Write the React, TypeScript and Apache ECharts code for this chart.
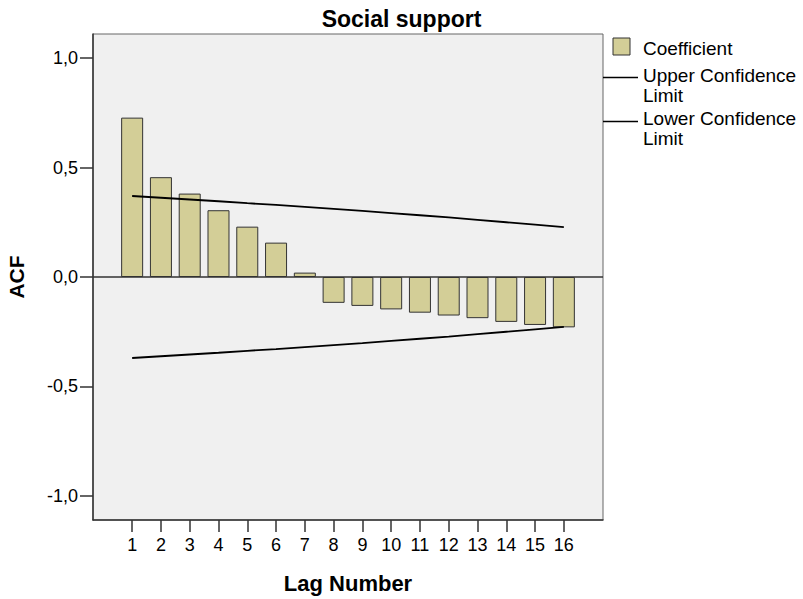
import React, { useEffect, useRef } from "react";
import * as echarts from "echarts";

const lags = [1, 2, 3, 4, 5, 6, 7, 8, 9, 10, 11, 12, 13, 14, 15, 16];
const coefficient = [0.728, 0.456, 0.381, 0.305, 0.23, 0.157, 0.02, -0.118, -0.132, -0.148, -0.163, -0.176, -0.188, -0.205, -0.219, -0.23];
const upperLimit = [0.37, 0.362, 0.354, 0.346, 0.337, 0.329, 0.32, 0.311, 0.302, 0.292, 0.282, 0.272, 0.261, 0.25, 0.239, 0.228];
const lowerLimit = [-0.37, -0.362, -0.354, -0.346, -0.337, -0.329, -0.32, -0.311, -0.302, -0.292, -0.282, -0.272, -0.261, -0.25, -0.239, -0.228];
const yTicks = [-1, -0.5, 0, 0.5, 1];

const BAR = "#d3ce97";
const FONT = "Liberation Sans, Arial, sans-serif";

export default function App() {
  const ref = useRef<HTMLDivElement>(null);
  useEffect(() => {
    if (!ref.current) return;
    document.body.style.margin = "0";
    const chart = echarts.init(ref.current, null, { renderer: "svg" });
    const axisLine = { show: true, onZero: false, lineStyle: { color: "#333", width: 1.5 } };
    chart.setOption({
      animation: false,
      backgroundColor: "#fff",
      textStyle: { fontFamily: FONT },
      title: {
        text: "Social support",
        left: "center",
        top: 2,
        textStyle: { fontFamily: FONT, fontSize: 23, fontWeight: "bold", color: "#000" },
      },
      grid: {
        left: 93, right: 200, top: 34, bottom: 79,
        outerBoundsMode: "none",
        containLabel: false,
        show: true, backgroundColor: "#f0f0f0", borderColor: "#666", borderWidth: 1,
      },
      xAxis: {
        type: "value",
        min: -0.36,
        max: 17.36,
        name: "Lag Number",
        nameLocation: "middle",
        nameGap: 52,
        nameTextStyle: { fontFamily: FONT, fontSize: 22, fontWeight: "bold", color: "#000" },
        axisLine,
        axisTick: { show: true, customValues: lags, length: 12, lineStyle: { color: "#333", width: 1.5 } },
        axisLabel: { customValues: lags, fontSize: 18, color: "#000", margin: 16, formatter: (v: number) => String(v) },
        splitLine: { show: false },
      },
      yAxis: {
        type: "value",
        min: -1.11,
        max: 1.11,
        name: "ACF",
        nameLocation: "middle",
        nameGap: 66,
        nameRotate: 90,
        nameTextStyle: { fontFamily: FONT, fontSize: 21, fontWeight: "bold", color: "#000" },
        axisLine,
        axisTick: { show: true, customValues: yTicks, length: 13, lineStyle: { color: "#333", width: 1.5 } },
        axisLabel: {
          customValues: yTicks, fontSize: 18, color: "#000", margin: 15,
          formatter: (v: number) => v.toFixed(1).replace(".", ","),
        },
        splitLine: { show: false },
      },
      series: [
        {
          type: "bar",
          name: "Coefficient",
          data: lags.map((l, i) => [l, coefficient[i]]),
          barWidth: 22,
          itemStyle: { color: BAR, borderColor: "#333", borderWidth: 1 },
          markLine: {
            silent: true,
            symbol: "none",
            label: { show: false },
            lineStyle: { color: "#333", width: 1.5, type: "solid" },
            data: [{ yAxis: 0 }],
          },
          z: 2,
        },
        {
          type: "line",
          name: "Upper Confidence Limit",
          data: lags.map((l, i) => [l, upperLimit[i]]),
          showSymbol: false,
          symbol: "none",
          lineStyle: { color: "#000", width: 1.8 },
          z: 3,
        },
        {
          type: "line",
          name: "Lower Confidence Limit",
          data: lags.map((l, i) => [l, lowerLimit[i]]),
          showSymbol: false,
          symbol: "none",
          lineStyle: { color: "#000", width: 1.8 },
          z: 3,
        },
      ],
      graphic: [
        { type: "rect", shape: { x: 613, y: 38, width: 17, height: 17 }, style: { fill: BAR, stroke: "#333", lineWidth: 1 } },
        { type: "text", x: 643, y: 48, style: { text: "Coefficient", font: `19px ${FONT}`, fill: "#000", verticalAlign: "middle" } },
        { type: "line", shape: { x1: 603, y1: 77.5, x2: 638, y2: 77.5 }, style: { stroke: "#000", lineWidth: 1.5 } },
        { type: "text", x: 643, y: 65, style: { text: "Upper Confidence\nLimit", font: `19px ${FONT}`, lineHeight: 20, fill: "#000", verticalAlign: "top" } },
        { type: "line", shape: { x1: 603, y1: 121.5, x2: 638, y2: 121.5 }, style: { stroke: "#000", lineWidth: 1.5 } },
        { type: "text", x: 643, y: 108, style: { text: "Lower Confidence\nLimit", font: `19px ${FONT}`, lineHeight: 20, fill: "#000", verticalAlign: "top" } },
      ],
    });
    return () => chart.dispose();
  }, []);
  return <div ref={ref} style={{ position: "absolute", left: 0, top: 0, width: 803, height: 599 }} />;
}
